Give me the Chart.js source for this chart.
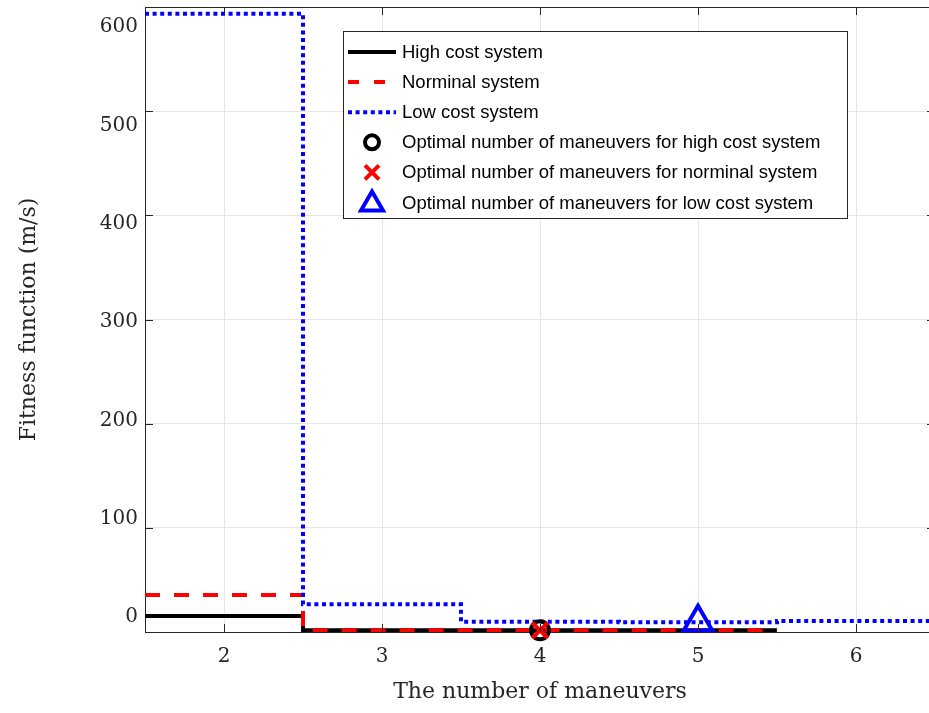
<!DOCTYPE html>
<html>
<head>
<meta charset="utf-8">
<script src="https://cdn.jsdelivr.net/npm/chart.js@4/dist/chart.umd.min.js"></script>
<style>
    html, body { margin: 0; padding: 0; background: #fff; overflow: hidden; }
    #wrap { width: 945px; height: 713px; }
</style>
</head>
<body>
<div id="wrap"><canvas id="fitnessChart" width="945" height="713"></canvas></div>
<script>
// Number of maneuvers (one stair step per value)
const maneuvers = [2, 3, 4, 5, 6];
const xTicks = [2, 3, 4, 5, 6];
const yTicks = [0, 100, 200, 300, 400, 500, 600];

// Fitness per number of maneuvers, m/s
const highCost = [15.4, 1.6, 1.6, 1.6];
const nominal = [35.6, 1.6, 1.6, 1.6];
const lowCost = [593.6, 26.6, 9.9, 9.3, 10.6];

// Optimal choices [maneuvers, fitness]
const optHigh = [4, 1.6];
const optNominal = [4, 1.6];
const optLow = [5, 9.3];

const axisColor = '#262626';
const serif = "'DejaVu Serif', serif";
const sans = "'Liberation Sans', Arial, sans-serif";

// stairs: each value spans maneuver-0.5 .. maneuver+0.5
function stairs(values) {
    const pts = values.map((v, i) => ({ x: maneuvers[i] - 0.5, y: v }));
    const last = values.length - 1;
    pts.push({ x: maneuvers[last] + 0.5, y: values[last] });
    return pts;
}

function lineSet(label, values, color, dash, order) {
    return {
        label: label,
        data: stairs(values),
        stepped: true,
        borderColor: color,
        borderWidth: 4,
        borderDash: dash,
        borderCapStyle: 'butt',
        pointRadius: 0,
        fill: false,
        order: order
    };
}

function markerSet(label, pt, color, style, radius, order) {
    return {
        label: label,
        data: [{ x: pt[0], y: pt[1] }],
        showLine: false,
        pointStyle: style,
        pointRadius: radius,
        pointBorderWidth: 4,
        pointBorderColor: color,
        pointBackgroundColor: 'rgba(0,0,0,0)',
        borderColor: color,
        clip: false,
        order: order
    };
}

// MATLAB-like box: top border plus inward ticks on all sides
const boxTicks = {
    id: 'boxTicks',
    afterDatasetsDraw(chart) {
        const { ctx, chartArea: a, scales } = chart;
        const len = 8;
        ctx.save();
        ctx.strokeStyle = axisColor;
        ctx.lineWidth = 1;
        ctx.beginPath();
        ctx.moveTo(a.left, a.top + 0.5);
        ctx.lineTo(a.right, a.top + 0.5);
        ctx.moveTo(a.right - 0.5, a.top);
        ctx.lineTo(a.right - 0.5, a.bottom);
        scales.x.ticks.forEach(t => {
            const px = Math.round(scales.x.getPixelForValue(t.value)) + 0.5;
            ctx.moveTo(px, a.bottom);
            ctx.lineTo(px, a.bottom - len);
            ctx.moveTo(px, a.top);
            ctx.lineTo(px, a.top + len);
        });
        scales.y.ticks.forEach(t => {
            const py = Math.round(scales.y.getPixelForValue(t.value)) + 0.5;
            ctx.moveTo(a.left, py);
            ctx.lineTo(a.left + len, py);
            ctx.moveTo(a.right, py);
            ctx.lineTo(a.right - len, py);
        });
        ctx.stroke();
        ctx.restore();
    }
};

// Legend box in the upper right of the plot
const boxLegend = {
    id: 'boxLegend',
    afterDraw(chart) {
        const { ctx, chartArea: a } = chart;
        const x0 = a.left + 198, y0 = a.top + 24, w = 504, h = 187;
        const rowH = 30.1;
        ctx.save();
        ctx.fillStyle = '#fff';
        ctx.fillRect(x0, y0, w, h);
        ctx.strokeStyle = '#262626';
        ctx.lineWidth = 1;
        ctx.strokeRect(x0 + 0.5, y0 + 0.5, w, h);

        chart.data.datasets.forEach((ds, i) => {
            const cy = y0 + 21 + i * rowH;
            const cx = x0 + 29;
            ctx.save();
            if (!ds.pointStyle) {
                ctx.strokeStyle = ds.borderColor;
                ctx.lineWidth = ds.borderWidth;
                ctx.setLineDash(i === 1 ? [11, 15] : (ds.borderDash || []));
                ctx.beginPath();
                ctx.moveTo(x0 + 5, cy);
                ctx.lineTo(x0 + 53, cy);
                ctx.stroke();
            } else {
                ctx.strokeStyle = ds.pointBorderColor;
                ctx.lineWidth = 4;
                ctx.beginPath();
                if (ds.pointStyle === 'circle') {
                    ctx.arc(cx, cy, 7, 0, Math.PI * 2);
                } else if (ds.pointStyle === 'crossRot') {
                    ctx.moveTo(cx - 7, cy - 7); ctx.lineTo(cx + 7, cy + 7);
                    ctx.moveTo(cx + 7, cy - 7); ctx.lineTo(cx - 7, cy + 7);
                } else {
                    ctx.moveTo(cx, cy - 11);
                    ctx.lineTo(cx + 11, cy + 8);
                    ctx.lineTo(cx - 11, cy + 8);
                    ctx.closePath();
                }
                ctx.stroke();
            }
            ctx.restore();
            ctx.fillStyle = '#000';
            ctx.font = '18.5px ' + sans;
            ctx.textBaseline = 'middle';
            ctx.fillText(ds.label, x0 + 59, cy + 1);
        });
        ctx.restore();
    }
};

const fitnessChart = new Chart(document.getElementById('fitnessChart'), {
    type: 'line',
    data: {
        datasets: [
            lineSet('High cost system', highCost, '#000000', [], 6),
            lineSet('Norminal system', nominal, '#ff0000', [15, 14], 5),
            lineSet('Low cost system', lowCost, '#0000ff', [4, 3.6], 4),
            markerSet('Optimal number of maneuvers for high cost system', optHigh, '#000000', 'circle', 9, 3),
            markerSet('Optimal number of maneuvers for norminal system', optNominal, '#ff0000', 'crossRot', 11, 2),
            markerSet('Optimal number of maneuvers for low cost system', optLow, '#0000ff', 'triangle', 16.5, 1)
        ]
    },
    options: {
        responsive: false,
        animation: false,
        layout: { autoPadding: false, padding: { top: 7, right: 10, left: 0, bottom: 0 } },
        plugins: {
            legend: { display: false },
            tooltip: { enabled: false }
        },
        scales: {
            x: {
                type: 'linear',
                min: 1.5,
                max: 6.5,
                afterBuildTicks: s => { s.ticks = xTicks.map(v => ({ value: v })); },
                afterFit: s => {
                    s.height = 81;
                    s.paddingLeft = 0;
                    s.paddingRight = 0;
                },
                grid: { color: '#e6e6e6', drawTicks: false },
                border: { color: axisColor, width: 1 },
                ticks: {
                    font: { family: serif, size: 20 },
                    color: axisColor,
                    padding: 13,
                    maxRotation: 0
                },
                title: {
                    display: true,
                    text: 'The number of maneuvers',
                    font: { family: serif, size: 22 },
                    color: axisColor,
                    padding: { top: 0, bottom: 8 }
                }
            },
            // data axis: grid, border and ticks
            y: {
                type: 'linear',
                position: 'left',
                weight: 0,
                min: 0,
                max: 600,
                afterBuildTicks: s => { s.ticks = yTicks.map(v => ({ value: v })); },
                afterFit: s => {
                    s.width = 0;
                    s.paddingTop = 0;
                    s.paddingBottom = 0;
                },
                grid: { color: '#e6e6e6', drawTicks: false },
                border: { color: axisColor, width: 1 },
                ticks: { display: false }
            },
            // label axis: tick text sits on a slightly compressed span
            yLabels: {
                type: 'linear',
                position: 'left',
                weight: 1,
                min: -15.3,
                max: 620.5,
                afterBuildTicks: s => { s.ticks = yTicks.map(v => ({ value: v })); },
                afterFit: s => {
                    s.width = 145;
                    s.paddingTop = 0;
                    s.paddingBottom = 0;
                },
                grid: { display: false, drawTicks: false },
                border: { display: false },
                ticks: {
                    font: { family: serif, size: 20 },
                    color: axisColor,
                    padding: 7
                },
                title: {
                    display: true,
                    text: 'Fitness function (m/s)',
                    font: { family: serif, size: 22 },
                    color: axisColor,
                    padding: { top: 16, bottom: 0 }
                }
            }
        }
    },
    plugins: [boxTicks, boxLegend]
});
</script>
</body>
</html>
